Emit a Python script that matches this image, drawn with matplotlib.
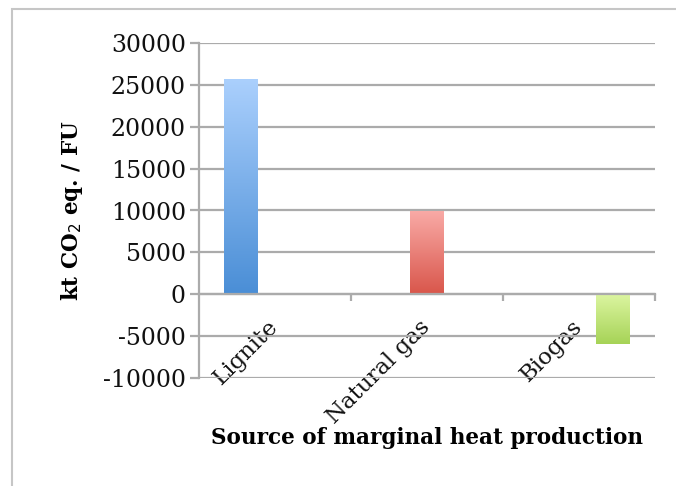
import numpy as np
import matplotlib
matplotlib.use('Agg')
import matplotlib.pyplot as plt
from matplotlib.colors import LinearSegmentedColormap
from matplotlib.patches import Rectangle

# data
sources = ['Lignite', 'Natural gas', 'Biogas']
emissions = [25700, 9900, -6000]
top_colors = ['#abd0fd', '#f9aaa6', '#ddf6a2']
bottom_colors = ['#4a8ed6', '#d9564b', '#a6d357']

GRID = '#ababab'
plt.rcParams['font.family'] = ['DejaVu Serif']
plt.rcParams['axes.unicode_minus'] = False

fig = plt.figure(figsize=(6.76, 4.86), dpi=100)
ax = fig.add_axes([199 / 676, 1 - 378 / 486, 456 / 676, 335 / 486])

# outer frame (cropped at right and bottom like the screenshot)
fig.patches.append(Rectangle((12 / 676, -0.5), 3, 1 - 9 / 486 + 0.5,
                             transform=fig.transFigure, fill=False,
                             edgecolor='#c6c6c6', lw=1.5))

x = np.arange(len(sources))
# the bars sit shifted outward relative to their category slots
bar_x = x + (x - 1) * 0.225
bars = ax.bar(bar_x, emissions, width=0.22, color='none', zorder=3)

for bar, top, bottom in zip(bars, top_colors, bottom_colors):
    x0, y0 = bar.get_x(), bar.get_y()
    w, h = bar.get_width(), bar.get_height()
    cmap = LinearSegmentedColormap.from_list('g', [bottom, top])
    grad = np.linspace(0, 1, 256).reshape(-1, 1)
    lo, hi = min(y0, y0 + h), max(y0, y0 + h)
    img = ax.imshow(grad, cmap=cmap, origin='lower', aspect='auto',
                    extent=(x0, x0 + w, lo, hi), zorder=3)
    img.set_clip_path(bar)

ax.set_xlim(-0.5, 2.5)
ax.set_ylim(-10000, 30000)
ax.set_yticks(np.arange(-10000, 30001, 5000))
ax.yaxis.grid(True, color=GRID, lw=1.6)
ax.set_axisbelow(True)

for side in ['top', 'right']:
    ax.spines[side].set_visible(False)
ax.spines['left'].set_color(GRID)
ax.spines['left'].set_linewidth(1.6)
ax.spines['bottom'].set_position(('data', 0))
ax.spines['bottom'].set_color(GRID)
ax.spines['bottom'].set_linewidth(1.6)
ax.spines['bottom'].set_zorder(4)

ax.tick_params(axis='y', length=6.5, width=1.6, color=GRID, labelsize=17,
               pad=3, labelcolor='#111111')
ax.set_xticks(x)
ax.set_xticklabels(sources, rotation=45, ha='right', va='center',
                   rotation_mode='anchor', fontsize=16.5, color='#111111')
ax.tick_params(axis='x', which='major', length=0, pad=21)
ax.set_xticks([0.5, 1.5, 2.5], minor=True)
ax.tick_params(axis='x', which='minor', length=5, width=1.6, color=GRID,
               direction='out')

ax.set_ylabel('kt CO$_2$ eq. / FU', fontsize=15.5, fontweight='bold', labelpad=13)
fig.text(427 / 676, 1 - 438 / 486, 'Source of marginal heat production',
         ha='center', va='center', fontsize=15.5, fontweight='bold')

fig.savefig('out.png', dpi=100)
